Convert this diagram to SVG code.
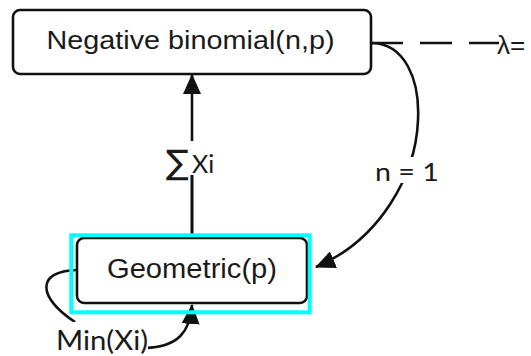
<svg xmlns="http://www.w3.org/2000/svg" width="531" height="356" viewBox="0 0 531 356">
<style>
.box{fill:#fff;stroke:#111;stroke-width:2.6}
.t{font-family:"Liberation Sans",Arial,sans-serif;fill:#1a1a1a}
.lbl{font-family:Lato,"Open Sans",sans-serif;fill:#1a1a1a}
.edge{fill:none;stroke:#111;stroke-width:2.6}
.bg{fill:#fff;stroke:none}
</style>
<defs>
<marker id="ah" viewBox="0 0 20 18" refX="19" refY="9" markerWidth="20" markerHeight="18" markerUnits="userSpaceOnUse" orient="auto">
<path d="M0,0 L20,9 L0,18 Z" fill="#111"/>
</marker>
</defs>
<g id="connectors">
<line class="edge" x1="192" y1="236" x2="192" y2="75" marker-end="url(#ah)"/>
<path class="edge" d="M371 43 C405 43 420 80 418 120 C416 175 380 240 316 267" marker-end="url(#ah)"/>
<line class="edge" x1="371" y1="43" x2="499" y2="43" stroke-dasharray="32 17"/>
<path class="edge" d="M77 270 C35 271 38 298 75 322"/>
<path class="edge" d="M145 348 C178 347 190 332 192 305" marker-end="url(#ah)"/>
<rect class="bg" x="165" y="141" width="58" height="34"/>
<text class="lbl" x="166" y="174" font-size="25"><tspan font-family="DejaVu Sans" font-size="34">∑</tspan><tspan x="192" y="173">Xi</tspan></text>
<line class="edge" x1="192" y1="175" x2="192" y2="236"/>
<rect class="bg" x="372" y="157" width="70" height="26"/>
<text class="lbl" x="407" y="181" font-size="25" text-anchor="middle" textLength="64" lengthAdjust="spacingAndGlyphs">n = 1</text>
<rect class="bg" x="54" y="322" width="94" height="34"/>
<text class="lbl" x="56" y="350" font-size="27" textLength="92" lengthAdjust="spacingAndGlyphs">Min(Xi)</text>
<text class="t" x="497" y="54" font-size="26">λ=</text>
</g>
<g id="node-negbin">
<rect class="box" x="13" y="10" width="358" height="64" rx="7"/>
<text class="t" x="46.5" y="48.5" font-size="26.5" textLength="288" lengthAdjust="spacingAndGlyphs">Negative binomial(n,p)</text>
</g>
<g id="node-geometric">
<rect class="box" x="77" y="238" width="230" height="65" rx="7"/>
<text class="t" x="107" y="278" font-size="27" textLength="170" lengthAdjust="spacingAndGlyphs">Geometric(p)</text>
<rect x="71.3" y="235.3" width="238.4" height="77" fill="none" stroke="#00ffff" stroke-width="4"/>
</g>
</svg>
